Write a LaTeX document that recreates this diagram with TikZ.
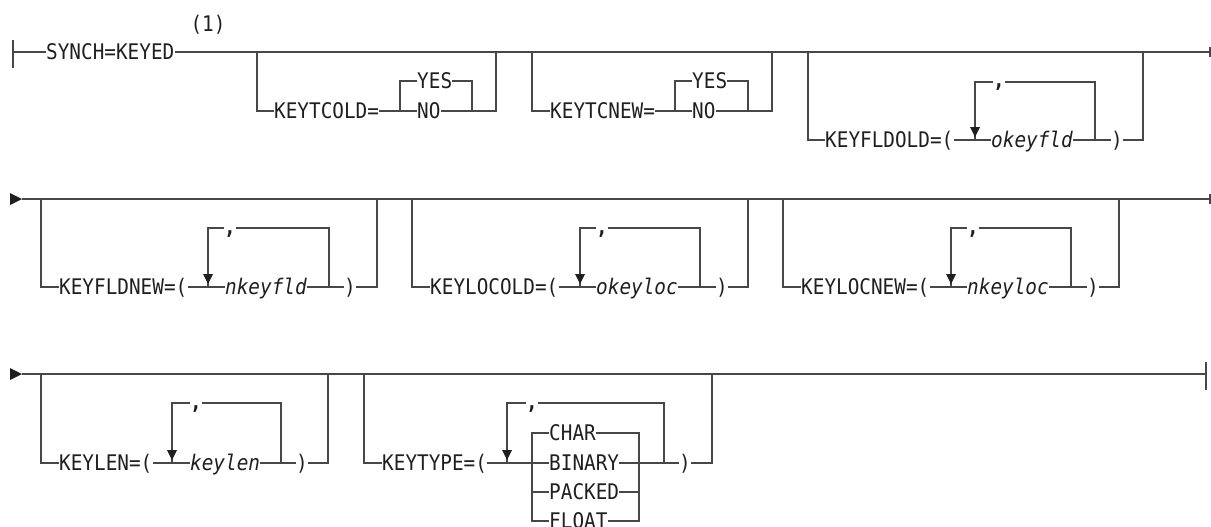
\documentclass[tikz,border=0pt]{standalone}
\usepackage{fontspec}
\newfontfamily\rrfont[FakeStretch=0.9]{DejaVu Sans Mono}
\usetikzlibrary{calc}
\tikzset{
  rrline/.style={line width=1.35pt, draw=black!72},
  rrtext/.style={inner sep=0pt, anchor=west, text height=15.6pt, text depth=0pt, font=\rrfont\fontsize{21.5}{25}\selectfont, text=black!88},
  rrvar/.style={rrtext, font=\rrfont\fontsize{21.5}{25}\selectfont\itshape},
  rrcomma/.style={rrtext, anchor=center, text height=12pt, font=\rrfont\bfseries\fontsize{21.5}{25}\selectfont},
  rrnote/.style={rrtext, anchor=center},
  rrtip/.style={fill=black!88},
}
\newcommand{\rrdowntip}[1]{\fill[rrtip] ($(#1)+(-5,-13)$) -- ($(#1)+(5,-13)$) -- ($(#1)+(0,-3)$) -- cycle;}
\begin{document}
\begin{tikzpicture}[x=1pt,y=-1pt]
\useasboundingbox (0,0) rectangle (1211,527);
% ================= ROW 1 =================
\coordinate (s1) at (13,52);
\coordinate (e1) at (1210,52);
\draw[rrline] (13,40) -- (13,68);
\node[rrtext] (synch) at (46,52) {SYNCH=KEYED};
\node[rrnote] (note) at (208,24) {(1)};
\draw[rrline] (s1) -- (synch.west);
\draw[rrline] (synch.east) -- (e1);
\draw[rrline] (1210,47) -- (1210,57);
% KEYTCOLD
\node[rrtext] (ktco) at (274,111) {KEYTCOLD=};
\node[rrtext] (yes1) at (417,81) {YES};
\node[rrtext] (no1) at (417,111) {NO};
\coordinate (a1) at (257,52); \coordinate (c1l) at (400,111);
\coordinate (c1r) at (472,111); \coordinate (b1) at (496,52);
\draw[rrline] (a1) |- (ktco.west);
\draw[rrline] (ktco.east) -- (no1.west);
\draw[rrline] (c1l) |- (yes1.west);
\draw[rrline] (yes1.east) -| (c1r);
\draw[rrline] (no1.east) -- (c1r) -| (b1);
% KEYTCNEW
\node[rrtext] (ktcn) at (550,111) {KEYTCNEW=};
\node[rrtext] (yes2) at (692,81) {YES};
\node[rrtext] (no2) at (692,111) {NO};
\coordinate (a2) at (532,52); \coordinate (c2l) at (675,111);
\coordinate (c2r) at (748,111); \coordinate (b2) at (772,52);
\draw[rrline] (a2) |- (ktcn.west);
\draw[rrline] (ktcn.east) -- (no2.west);
\draw[rrline] (c2l) |- (yes2.west);
\draw[rrline] (yes2.east) -| (c2r);
\draw[rrline] (no2.east) -- (c2r) -| (b2);
% KEYFLDOLD
\node[rrtext] (kfo) at (825,140) {KEYFLDOLD=(};
\node[rrvar] (okf) at (991,140) {okeyfld};
\node[rrcomma] (cm1) at (999,82) {,};
\node[rrtext] (rp1) at (1111,140) {)};
\coordinate (a3) at (808,52); \coordinate (l3) at (975,140);
\coordinate (r3) at (1095,140); \coordinate (b3) at (1143,52);
\draw[rrline] (a3) |- (kfo.west);
\draw[rrline] (kfo.east) -- (okf.west);
\draw[rrline] (l3) |- (cm1.west);
\draw[rrline] (cm1.east) -| (r3);
\draw[rrline] (okf.east) -- (rp1.west);
\draw[rrline] (rp1.east) -| (b3);
\rrdowntip{l3}
% ================= ROW 2 =================
\coordinate (s2) at (22,199);
\coordinate (e2) at (1210,199);
\fill[rrtip] (10,193) -- (10,205) -- (s2) -- cycle;
\draw[rrline] (s2) -- (e2);
\draw[rrline] (1210,194) -- (1210,204);
% KEYFLDNEW
\node[rrtext] (kfn) at (59,287) {KEYFLDNEW=(};
\node[rrvar] (nkf) at (225,287) {nkeyfld};
\node[rrcomma] (cm2) at (230,228) {,};
\node[rrtext] (rp2) at (344,287) {)};
\coordinate (a4) at (41,199); \coordinate (l4) at (208,287);
\coordinate (r4) at (329,287); \coordinate (b4) at (377,199);
\draw[rrline] (a4) |- (kfn.west);
\draw[rrline] (kfn.east) -- (nkf.west);
\draw[rrline] (l4) |- (cm2.west);
\draw[rrline] (cm2.east) -| (r4);
\draw[rrline] (nkf.east) -- (rp2.west);
\draw[rrline] (rp2.east) -| (b4);
\rrdowntip{l4}
% KEYLOCOLD
\node[rrtext] (klo) at (430,287) {KEYLOCOLD=(};
\node[rrvar] (okl) at (596,287) {okeyloc};
\node[rrcomma] (cm3) at (602,228) {,};
\node[rrtext] (rp3) at (716,287) {)};
\coordinate (a5) at (412,199); \coordinate (l5) at (580,287);
\coordinate (r5) at (700,287); \coordinate (b5) at (748,199);
\draw[rrline] (a5) |- (klo.west);
\draw[rrline] (klo.east) -- (okl.west);
\draw[rrline] (l5) |- (cm3.west);
\draw[rrline] (cm3.east) -| (r5);
\draw[rrline] (okl.east) -- (rp3.west);
\draw[rrline] (rp3.east) -| (b5);
\rrdowntip{l5}
% KEYLOCNEW
\node[rrtext] (kln) at (801,287) {KEYLOCNEW=(};
\node[rrvar] (nkl) at (967,287) {nkeyloc};
\node[rrcomma] (cm4) at (973,228) {,};
\node[rrtext] (rp4) at (1087,287) {)};
\coordinate (a6) at (783,199); \coordinate (l6) at (951,287);
\coordinate (r6) at (1071,287); \coordinate (b6) at (1119,199);
\draw[rrline] (a6) |- (kln.west);
\draw[rrline] (kln.east) -- (nkl.west);
\draw[rrline] (l6) |- (cm4.west);
\draw[rrline] (cm4.east) -| (r6);
\draw[rrline] (nkl.east) -- (rp4.west);
\draw[rrline] (rp4.east) -| (b6);
\rrdowntip{l6}
% ================= ROW 3 =================
\coordinate (s3) at (22,374);
\coordinate (e3) at (1206,374);
\fill[rrtip] (10,368) -- (10,380) -- (s3) -- cycle;
\draw[rrline] (s3) -- (e3);
\draw[rrline] (1206,362) -- (1206,390);
% KEYLEN
\node[rrtext] (kl) at (59,463) {KEYLEN=(};
\node[rrvar] (klv) at (190,463) {keylen};
\node[rrcomma] (cm5) at (196,403) {,};
\node[rrtext] (rp5) at (296,463) {)};
\coordinate (a7) at (41,374); \coordinate (l7) at (172,463);
\coordinate (r7) at (281,463); \coordinate (b7) at (328,374);
\draw[rrline] (a7) |- (kl.west);
\draw[rrline] (kl.east) -- (klv.west);
\draw[rrline] (l7) |- (cm5.west);
\draw[rrline] (cm5.east) -| (r7);
\draw[rrline] (klv.east) -- (rp5.west);
\draw[rrline] (rp5.east) -| (b7);
\rrdowntip{l7}
% KEYTYPE
\node[rrtext] (kt) at (382,463) {KEYTYPE=(};
\node[rrtext] (ch) at (549,433) {CHAR};
\node[rrtext] (bi) at (549,463) {BINARY};
\node[rrtext] (pa) at (549,492) {PACKED};
\node[rrtext] (fl) at (549,521) {FLOAT};
\node[rrcomma] (cm6) at (532,403) {,};
\node[rrtext] (rp6) at (679,463) {)};
\coordinate (a8) at (364,374); \coordinate (l8) at (507,463);
\coordinate (cl) at (532,463); \coordinate (cr) at (639,463);
\coordinate (r8) at (664,463); \coordinate (b8) at (712,374);
\draw[rrline] (a8) |- (kt.west);
\draw[rrline] (kt.east) -- (bi.west);
\draw[rrline] (ch.west) -| (cl) |- (fl.west);
\draw[rrline] (cl |- pa.west) -- (pa.west);
\draw[rrline] (ch.east) -| (cr) |- (fl.east);
\draw[rrline] (pa.east) -- (cr |- pa.east);
\draw[rrline] (bi.east) -- (r8);
\draw[rrline] (l8) |- (cm6.west);
\draw[rrline] (cm6.east) -| (r8);
\draw[rrline] (r8) -- (rp6.west);
\draw[rrline] (rp6.east) -| (b8);
\rrdowntip{l8}
\end{tikzpicture}
\end{document}
